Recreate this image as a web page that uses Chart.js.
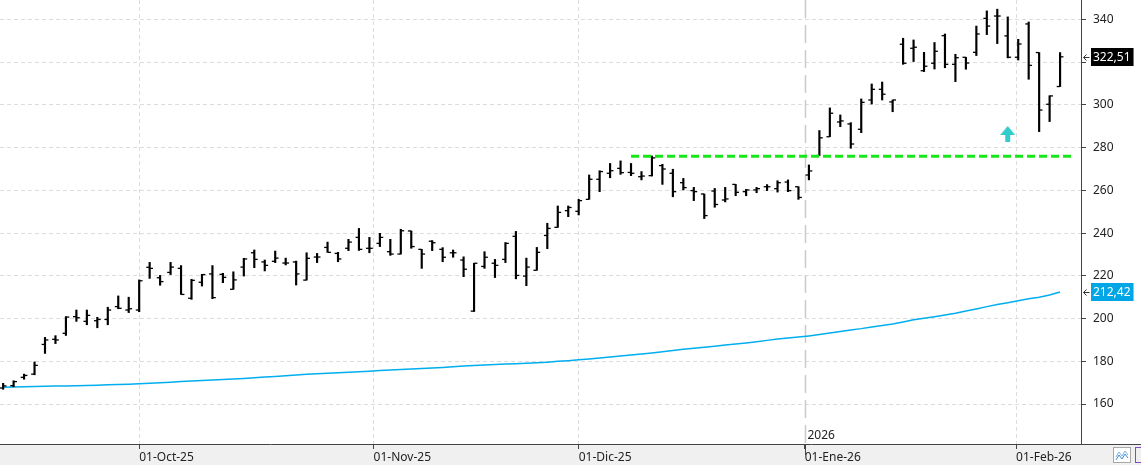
<!DOCTYPE html>
<html>
<head>
<meta charset="utf-8">
<title>Cotización diaria</title>
<script src="https://cdn.jsdelivr.net/npm/chart.js@4.4.1/dist/chart.umd.min.js"></script>
<style>
    html, body { margin: 0; padding: 0; background: #fff; }
    #wrap { width: 1141px; height: 465px; }
</style>
</head>
<body>
<div id="wrap"><canvas id="priceChart" width="1141" height="465"></canvas></div>
<script>
// sesiones desde 12-sep-25 hasta 06-feb-26 (índice = sesión)
const opens = [
    167.5, 168.6, 172.5, 174.0, 187.9, 190.3, 193.1, 200.9, 198.7, 199.0,
    199.6, 205.6, 204.0, 204.0, 224.0, 219.1, 221.6, 223.5, 209.5, 217.0,
    220.9, 220.7, 213.7, 224.1, 230.8, 226.5, 226.8, 226.0, 226.5, 218.0,
    228.8, 233.3, 230.5, 232.9, 238.0, 232.9, 235.2, 231.3, 230.2, 241.0,
    232.4, 236.2, 232.4, 230.8, 227.4, 203.5, 224.4, 225.9, 227.7, 238.5,
    219.9, 222.6, 238.9, 242.7, 250.5, 250.2, 255.8, 265.2, 268.0, 270.3,
    268.4, 266.4, 266.9, 271.6, 268.0, 263.6, 259.9, 258.3, 259.7, 255.5,
    262.8, 259.4, 260.2, 261.7, 260.8, 263.9, 261.7, 267.2, 276.3, 285.1,
    292.0, 291.1, 288.6, 302.3, 307.3, 301.4, 328.4, 326.5, 316.0, 319.5,
    332.4, 319.0, 322.3, 324.6, 340.5, 341.6, 332.3, 322.3, 337.9, 324.5,
    300.3, 308.6
];
const highs = [
    169.7, 170.9, 174.0, 179.7, 191.2, 192.0, 200.9, 204.0, 204.0, 200.6,
    205.3, 210.6, 210.0, 218.1, 226.3, 220.2, 226.3, 224.8, 218.4, 220.7,
    224.8, 221.2, 221.9, 228.2, 232.1, 227.4, 231.6, 228.3, 226.9, 230.8,
    230.5, 235.8, 231.0, 237.1, 242.2, 238.0, 239.9, 237.1, 241.8, 241.0,
    232.4, 236.5, 233.2, 232.1, 228.9, 225.9, 231.3, 227.7, 235.6, 240.8,
    228.3, 233.3, 244.6, 252.7, 252.7, 255.8, 267.2, 269.2, 272.6, 273.8,
    272.6, 268.8, 276.1, 272.2, 269.9, 265.6, 261.4, 258.3, 260.9, 261.4,
    262.8, 260.5, 261.4, 262.7, 264.5, 264.9, 261.7, 271.9, 288.0, 298.6,
    295.3, 291.7, 302.8, 309.8, 310.7, 302.3, 331.2, 330.4, 324.6, 329.2,
    333.2, 323.7, 322.3, 336.9, 344.0, 344.8, 341.2, 330.7, 338.8, 324.5,
    304.3, 324.5
];
const lows = [
    166.9, 168.1, 171.6, 173.7, 183.7, 188.3, 192.1, 198.7, 197.1, 195.7,
    197.1, 204.6, 202.8, 203.2, 218.8, 215.6, 220.6, 211.3, 209.0, 215.2,
    209.3, 216.8, 213.7, 219.9, 223.8, 222.3, 226.2, 225.1, 215.7, 218.0,
    226.2, 231.0, 226.6, 231.8, 231.9, 230.8, 233.7, 229.6, 230.2, 232.9,
    223.5, 231.8, 226.6, 228.7, 219.6, 203.3, 223.5, 219.2, 226.2, 218.6,
    215.4, 222.6, 232.7, 242.7, 247.7, 248.5, 255.8, 259.4, 265.9, 267.5,
    266.9, 264.9, 266.7, 262.8, 257.0, 260.2, 255.2, 246.8, 252.1, 254.6,
    257.5, 257.5, 258.9, 259.9, 259.2, 259.4, 255.8, 264.9, 276.3, 285.1,
    289.8, 279.7, 287.0, 300.4, 302.3, 296.8, 319.0, 320.3, 315.6, 316.8,
    317.4, 310.9, 316.7, 323.1, 332.9, 328.7, 322.0, 321.0, 312.0, 287.5,
    292.2, 308.6
];
const closes = [
    168.5, 170.5, 173.4, 178.1, 190.0, 190.0, 200.7, 200.4, 201.5, 199.6,
    204.0, 204.8, 204.6, 217.7, 223.5, 217.3, 224.1, 211.3, 217.9, 220.6,
    209.8, 219.3, 218.1, 227.9, 227.7, 224.9, 228.3, 226.0, 220.9, 228.2,
    228.8, 231.0, 227.9, 235.8, 232.4, 232.9, 238.0, 230.2, 241.1, 233.7,
    230.2, 235.5, 228.7, 230.8, 223.1, 225.9, 228.7, 224.9, 235.2, 220.2,
    224.1, 231.0, 242.2, 249.7, 252.0, 255.2, 265.2, 268.8, 269.2, 268.3,
    268.0, 266.7, 275.2, 270.0, 259.4, 261.3, 259.4, 248.2, 253.4, 256.0,
    259.1, 260.2, 260.8, 261.7, 263.6, 259.9, 256.7, 269.1, 284.6, 296.1,
    292.5, 281.7, 301.2, 307.3, 305.0, 302.3, 319.5, 327.0, 318.1, 325.1,
    319.0, 322.1, 319.6, 333.2, 336.9, 341.6, 322.3, 328.5, 318.5, 297.6,
    304.2, 322.51
];
// media móvil
const ma200 = [
    167.9, 168.0, 168.1, 168.2, 168.3, 168.4, 168.5, 168.6, 168.7, 168.85,
    169.0, 169.15, 169.3, 169.5, 169.75, 170.0, 170.25, 170.5, 170.75, 171.0,
    171.25, 171.5, 171.75, 172.0, 172.3, 172.6, 172.9, 173.25, 173.6, 173.9,
    174.15, 174.4, 174.65, 174.9, 175.15, 175.4, 175.65, 175.9, 176.15, 176.4,
    176.65, 176.9, 177.15, 177.45, 177.75, 178.0, 178.25, 178.5, 178.75, 178.9,
    179.1, 179.3, 179.6, 180.0, 180.3, 180.7, 181.1, 181.5, 182.0, 182.5,
    182.9, 183.4, 183.9, 184.5, 185.1, 185.6, 186.1, 186.6, 187.1, 187.6,
    188.1, 188.6, 189.2, 189.8, 190.4, 190.9, 191.4, 191.9, 192.5, 193.2,
    194.0, 194.7, 195.3, 196.1, 196.8, 197.5, 198.4, 199.4, 200.1, 200.9,
    201.7, 202.5, 203.5, 204.5, 205.6, 206.6, 207.4, 208.3, 209.3, 210.0,
    211.0, 212.42
];

const monthTicks = [13, 35.4, 55, 76.6, 96.8];
const monthLabels = ["01-Oct-25", "01-Nov-25", "01-Dic-25", "01-Ene-26", "01-Feb-26"];
const yearTick = 76.6;
const yearLabel = "2026";

const supportLevel = 276;
const supportFrom = 60;
const supportTo = 102.05;
const signalAt = 96;
const signalPrice = 286.4;

const FONT = "'Noto Sans', 'DejaVu Sans', sans-serif";
const MA_COLOR = "#00aeef";

function fmt(v) {
    return v.toFixed(2).replace(".", ",");
}

function makeArrow() {
    const c = document.createElement("canvas");
    c.width = 15;
    c.height = 16;
    const g = c.getContext("2d");
    g.fillStyle = "#33cccc";
    g.beginPath();
    g.moveTo(7.5, 0);
    g.lineTo(15, 9);
    g.lineTo(0, 9);
    g.closePath();
    g.fill();
    g.fillRect(5, 9, 5, 7);
    return c;
}

function priceTag(ctx, yScale, value, bg) {
    const y = Math.round(yScale.getPixelForValue(value));
    const text = fmt(value);
    ctx.font = "12px " + FONT;
    const w = ctx.measureText(text).width + 5;
    ctx.fillStyle = bg;
    ctx.fillRect(1091, y - 9, w, 18);
    ctx.fillStyle = "#fff";
    ctx.textAlign = "left";
    ctx.textBaseline = "middle";
    ctx.fillText(text, 1093, y + 0.5);

    // flechita hacia el eje
    ctx.strokeStyle = "#333";
    ctx.lineWidth = 1;
    ctx.beginPath();
    ctx.moveTo(1083.5, y + 0.5);
    ctx.lineTo(1089.5, y + 0.5);
    ctx.moveTo(1083.5, y + 0.5);
    ctx.lineTo(1086.5, y - 2.5);
    ctx.moveTo(1083.5, y + 0.5);
    ctx.lineTo(1086.5, y + 3.5);
    ctx.stroke();
}

const chartChrome = {
    id: "chartChrome",
    beforeDraw(chart) {
        const { ctx, width, height } = chart;
        const xs = chart.scales.x;
        ctx.save();
        ctx.fillStyle = "#fff";
        ctx.fillRect(0, 0, width, height);
        ctx.fillStyle = "#f0f0f0";
        ctx.fillRect(0, xs.top, width, height - xs.top);
        ctx.restore();
    },
    beforeDatasetsDraw(chart) {
        const { ctx, chartArea } = chart;
        const xs = chart.scales.x;
        const x = Math.round(xs.getPixelForValue(yearTick)) + 0.5;
        ctx.save();
        ctx.strokeStyle = "#cacaca";
        ctx.lineWidth = 1.5;
        ctx.setLineDash([18, 7]);
        ctx.beginPath();
        ctx.moveTo(x, chartArea.top);
        ctx.lineTo(x, chartArea.bottom);
        ctx.stroke();
        ctx.setLineDash([]);
        ctx.strokeStyle = "#444";
        ctx.lineWidth = 1;
        ctx.beginPath();
        ctx.moveTo(x, chartArea.bottom);
        ctx.lineTo(x, chartArea.bottom + 11);
        ctx.stroke();
        ctx.fillStyle = "#222";
        ctx.font = "12px " + FONT;
        ctx.textAlign = "left";
        ctx.textBaseline = "middle";
        ctx.fillText(yearLabel, x + 2, chartArea.bottom - 8);
        ctx.restore();
    },
    afterDraw(chart) {
        const { ctx, width } = chart;
        const xs = chart.scales.x;
        const ys = chart.scales.y;
        ctx.save();

        // eje x hasta el borde derecho
        ctx.strokeStyle = "#444";
        ctx.lineWidth = 1;
        ctx.beginPath();
        ctx.moveTo(ys.left, xs.top + 0.5);
        ctx.lineTo(width, xs.top + 0.5);
        ctx.stroke();

        // marcas menores del eje y
        ys.ticks.forEach(t => {
            if (t.value % 20 === 0) return;
            const y = Math.round(ys.getPixelForValue(t.value)) + 0.5;
            ctx.beginPath();
            ctx.moveTo(ys.left, y);
            ctx.lineTo(ys.left + 3.5, y);
            ctx.stroke();
        });

        priceTag(ctx, ys, closes[closes.length - 1], "#000");
        priceTag(ctx, ys, ma200[ma200.length - 1], "#00a6e6");

        // botones de la esquina
        ctx.fillStyle = "#fff";
        ctx.fillRect(1113.5, 447.5, 17, 15);
        ctx.strokeStyle = "#a8a8a8";
        ctx.strokeRect(1113.5, 447.5, 17, 15);
        ctx.strokeStyle = "#7ab4e6";
        ctx.beginPath();
        ctx.moveTo(1116, 457); ctx.lineTo(1119, 452); ctx.lineTo(1122, 456); ctx.lineTo(1125, 451); ctx.lineTo(1128, 455);
        ctx.stroke();
        ctx.strokeStyle = "#3d8ad8";
        ctx.beginPath();
        ctx.moveTo(1116, 460); ctx.lineTo(1119, 455); ctx.lineTo(1122, 459); ctx.lineTo(1125, 454); ctx.lineTo(1128, 458);
        ctx.stroke();
        ctx.strokeStyle = "#7a4fc0";
        ctx.strokeRect(1135.5, 447.5, 10, 15);
        ctx.restore();
    }
};

function buildChart() {
    const ctx = document.getElementById("priceChart");
    const idx = closes.map((c, i) => i);

    new Chart(ctx, {
        type: "bar",
        data: {
            datasets: [
                {
                    type: "scatter",
                    data: [{ x: signalAt, y: signalPrice }],
                    pointStyle: makeArrow(),
                    pointRadius: 8
                },
                {
                    type: "line",
                    data: [{ x: supportFrom, y: supportLevel }, { x: supportTo, y: supportLevel }],
                    borderColor: "#16e616",
                    borderWidth: 3,
                    borderDash: [8, 4],
                    pointRadius: 0
                },
                {
                    type: "scatter",
                    data: idx.map(i => ({ x: i - 0.17, y: opens[i] })),
                    pointStyle: "line",
                    pointRadius: 1.6,
                    borderColor: "#000",
                    borderWidth: 1.3
                },
                {
                    type: "scatter",
                    data: idx.map(i => ({ x: i + 0.17, y: closes[i] })),
                    pointStyle: "line",
                    pointRadius: 1.6,
                    borderColor: "#000",
                    borderWidth: 1.3
                },
                {
                    type: "bar",
                    data: idx.map(i => ({ x: i, y: [lows[i], highs[i]] })),
                    backgroundColor: "#000",
                    borderWidth: 0,
                    barThickness: 1.5
                },
                {
                    type: "line",
                    data: idx.map(i => ({ x: i, y: ma200[i] })),
                    borderColor: MA_COLOR,
                    borderWidth: 1.5,
                    pointRadius: 0,
                    tension: 0
                }
            ]
        },
        options: {
            responsive: false,
            animation: false,
            layout: { padding: 0, autoPadding: false },
            plugins: {
                legend: { display: false },
                tooltip: { enabled: false }
            },
            scales: {
                x: {
                    type: "linear",
                    position: "bottom",
                    offset: false,
                    min: -0.3,
                    max: 103,
                    afterBuildTicks: s => { s.ticks = monthTicks.map(v => ({ value: v })); },
                    afterFit: s => { s.height = 21; s.paddingLeft = 0; s.paddingRight = 0; },
                    ticks: {
                        autoSkip: false,
                        maxRotation: 0,
                        align: "start",
                        padding: 1,
                        color: "#222",
                        font: { family: FONT, size: 12 },
                        callback: v => monthLabels[monthTicks.indexOf(v)]
                    },
                    grid: {
                        offset: false,
                        color: c => (c.tick && c.tick.value === yearTick) ? "rgba(0,0,0,0)" : "#dcdcdc",
                        tickColor: "#444",
                        tickLength: 5
                    },
                    border: { display: true, color: "#444", width: 1, dash: [4, 3] }
                },
                y: {
                    type: "linear",
                    position: "right",
                    min: 141.3,
                    max: 349.1,
                    afterBuildTicks: s => {
                        const t = [];
                        for (let v = 145; v <= 345; v += 5) t.push({ value: v });
                        s.ticks = t;
                    },
                    afterFit: s => { s.width = 60; s.paddingTop = 0; s.paddingBottom = 0; },
                    ticks: {
                        autoSkip: false,
                        padding: 7,
                        color: "#222",
                        font: { family: FONT, size: 12 },
                        callback: v => (v % 20 === 0 ? String(v) : null)
                    },
                    grid: {
                        color: c => (c.tick && c.tick.value % 20 === 0) ? "#dcdcdc" : "rgba(0,0,0,0)",
                        tickColor: c => (c.tick && c.tick.value % 20 === 0) ? "#444" : "rgba(0,0,0,0)",
                        tickLength: 5
                    },
                    border: { display: true, color: "#444", width: 1, dash: [4, 3] }
                }
            }
        },
        plugins: [chartChrome]
    });
}

buildChart();
</script>
</body>
</html>
